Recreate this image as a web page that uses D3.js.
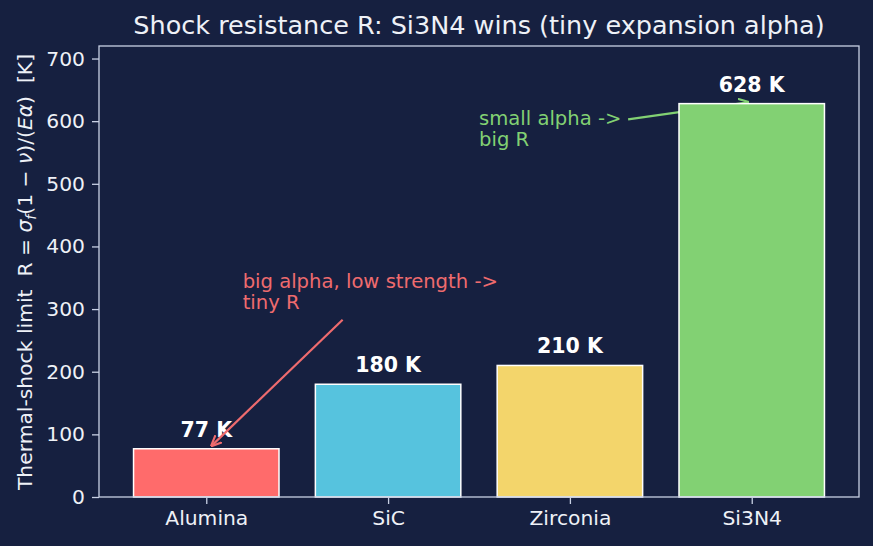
<!DOCTYPE html>
<html>
<head>
<meta charset="utf-8">
<script src="https://cdn.jsdelivr.net/npm/d3@7"></script>
<style>
  body { margin: 0; background: #162040; }
  text { font-family: "DejaVu Sans", sans-serif; }
</style>
</head>
<body>
<div id="chart"></div>
<script>
var materials = ["Alumina", "SiC", "Zirconia", "Si3N4"]
var shockR = [77, 180, 210, 628]
var barColors = ["#ff6b6b", "#56c3de", "#f3d56b", "#82d173"]
var yTicks = [0, 100, 200, 300, 400, 500, 600, 700]

var W = 873, H = 546
// plot box (note: "top" is reserved on window, so use pTop etc.)
var pLeft = 99, pRight = 859, pTop = 46, pBottom = 497
var bg = "#162040", axisCol = "#c8d0e4", txtCol = "#eef1f7"

var svg = d3.select("#chart").append("svg")
  .attr("width", W).attr("height", H)

svg.append("rect").attr("width", W).attr("height", H).attr("fill", bg)

// matplotlib-style band: bars at 0..3, width 0.8, 5% margins
var x = d3.scaleLinear().domain([-0.59, 3.59]).range([pLeft, pRight])
var y = d3.scaleLinear().domain([0, 720]).range([pBottom, pTop])

// arrows
var defs = svg.append("defs")
function marker(id, col) {
  defs.append("marker").attr("id", id)
    .attr("viewBox", "0 0 10 10").attr("refX", 9).attr("refY", 5)
    .attr("markerWidth", 11).attr("markerHeight", 11).attr("markerUnits", "userSpaceOnUse")
    .attr("orient", "auto")
    .append("path").attr("d", "M0,0.5 L10,5 L0,9.5").attr("fill", "none")
    .attr("stroke", col).attr("stroke-width", 2)
}
marker("headG", "#82d173")
marker("headR", "#ee6b6e")

// green arrow sits under the Si3N4 bar
svg.append("line")
  .attr("x1", x(2.32)).attr("y1", y(603))
  .attr("x2", x(2.98)).attr("y2", y(630))
  .attr("stroke", "#82d173").attr("stroke-width", 2.2)
  .attr("marker-end", "url(#headG)")

// bars
materials.forEach((m, i) => {
  svg.append("rect")
    .attr("x", x(i - 0.4))
    .attr("y", y(shockR[i]))
    .attr("width", x(0.4) - x(-0.4))
    .attr("height", y(0) - y(shockR[i]))
    .attr("fill", barColors[i])
    .attr("stroke", "white")
    .attr("stroke-width", 1.5)

  svg.append("text")
    .attr("x", x(i)).attr("y", y(shockR[i]) - 12)
    .attr("text-anchor", "middle")
    .style("font-size", "20.5px").style("font-weight", "bold")
    .attr("fill", "white")
    .text(shockR[i] + " K")
})

// red arrow over bars
svg.append("line")
  .attr("x1", x(0.75)).attr("y1", y(283))
  .attr("x2", x(0.03)).attr("y2", y(82))
  .attr("stroke", "#ee6b6e").attr("stroke-width", 2.2)
  .attr("marker-end", "url(#headR)")

// axes frame
svg.append("rect")
  .attr("x", pLeft).attr("y", pTop)
  .attr("width", pRight - pLeft).attr("height", pBottom - pTop)
  .attr("fill", "none").attr("stroke", axisCol).attr("stroke-width", 1.3)

var yAxis = svg.append("g").attr("transform", "translate(" + pLeft + ",0)")
  .call(d3.axisLeft(y).tickValues(yTicks).tickSize(7).tickPadding(7))
yAxis.select(".domain").remove()
yAxis.selectAll("line").attr("stroke", axisCol).attr("stroke-width", 1.3)
yAxis.selectAll("text").attr("fill", txtCol).style("font-size", "20.3px")
  .style("font-family", "DejaVu Sans")

var xAxis = svg.append("g").attr("transform", "translate(0," + pBottom + ")")
  .call(d3.axisBottom(x).tickValues([0, 1, 2, 3]).tickFormat(i => materials[i]).tickSize(7).tickPadding(7))
xAxis.select(".domain").remove()
xAxis.selectAll("line").attr("stroke", axisCol).attr("stroke-width", 1.3)
xAxis.selectAll("text").attr("fill", txtCol).style("font-size", "20.3px")
  .style("font-family", "DejaVu Sans")

// title
svg.append("text")
  .attr("x", (pLeft + pRight) / 2).attr("y", 34)
  .attr("text-anchor", "middle")
  .style("font-size", "25.5px").attr("fill", txtCol)
  .text("Shock resistance R: Si3N4 wins (tiny expansion alpha)")

// y label (keep the double spaces)
var yl = svg.append("text")
  .attr("transform", "translate(32," + 272 + ") rotate(-90)")
  .attr("text-anchor", "middle")
  .style("white-space", "pre")
  .style("font-size", "20.3px").attr("fill", txtCol)
yl.append("tspan").text("Thermal-shock limit  R = ")
yl.append("tspan").style("font-style", "italic").text("σ")
yl.append("tspan").style("font-style", "italic").style("font-size", "14px").attr("dy", 4).text("f")
yl.append("tspan").attr("dy", -4).text("(1 − ")
yl.append("tspan").style("font-style", "italic").text("ν")
yl.append("tspan").text(")/(")
yl.append("tspan").style("font-style", "italic").text("Eα")
yl.append("tspan").text(")  [K]")

// annotation texts (last line baseline at yv)
function note(xv, yv, lines, col) {
  var t = svg.append("text").attr("fill", col).style("font-size", "19.6px")
  lines.forEach((s, k) => {
    t.append("tspan").attr("x", x(xv))
      .attr("y", y(yv) - (lines.length - 1 - k) * 21)
      .text(s)
  })
}
note(0.2, 300, ["big alpha, low strength ->", "tiny R"], "#ee6b6e")
note(1.5, 560, ["small alpha ->", "big R"], "#82d173")
</script>
</body>
</html>
